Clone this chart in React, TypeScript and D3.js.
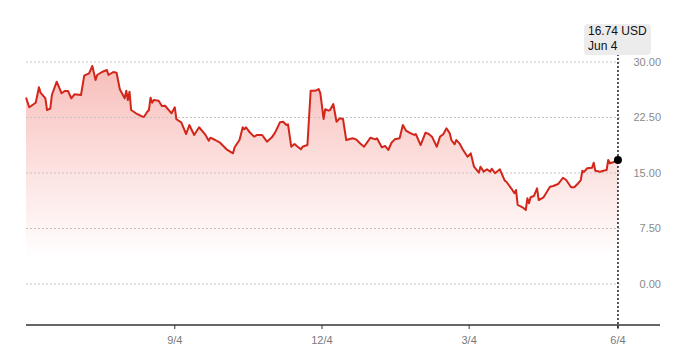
import React from "react";
import * as d3 from "d3";

const START = new Date(2023, 5, 4);
const END_AXIS = new Date(2024, 5, 30);

const dayOffsets = [
  0, 2, 6, 8, 9, 12, 13, 15, 16, 19, 22, 24, 26, 28, 30, 34, 36, 39, 41, 43, 44, 47, 50, 51, 54, 56, 58, 61, 62, 63,
  64, 65, 68, 72, 73, 75, 76, 77, 78, 79, 82, 84, 86, 90, 92, 93, 96, 99, 101, 104, 107, 111, 113, 114, 117, 120, 124,
  128, 129, 132, 134, 135, 136, 138, 141, 143, 146, 149, 152, 154, 157, 159, 161, 162, 164, 166, 168, 170, 171, 174,
  176, 179, 181, 182, 184, 185, 187, 188, 190, 192, 194, 196, 198, 202, 204, 207, 209, 213, 216, 217, 220, 222, 224,
  226, 228, 231, 233, 235, 237, 240, 241, 244, 247, 249, 251, 254, 256, 258, 260, 262, 263, 265, 266, 268, 270, 273,
  275, 277, 280, 281, 283, 285, 287, 288, 290, 293, 296, 297, 300, 302, 303, 304, 307, 309, 310, 311, 312, 314, 316,
  317, 320, 324, 326, 329, 332, 334, 337, 339, 341, 343, 344, 345, 347, 350, 351, 352, 355, 357, 359, 360, 361, 363, 366,
];

const prices = [
  25.18, 23.88, 24.5, 26.58, 25.85, 25.09, 23.51, 23.69, 25.54, 27.34, 25.77, 26.08, 26.08, 25.09, 25.64, 25.54, 28.15,
  28.47, 29.46, 27.57, 28.24, 28.65, 28.92, 28.24, 28.65, 28.55, 26.31, 25.09, 26.12, 24.86, 25.99, 23.51, 23.07, 22.61,
  22.61, 23.28, 23.51, 25.18, 24.5, 24.86, 24.77, 24.05, 24.09, 23.07, 23.88, 22.26, 21.85, 20.27, 21.49, 20.14, 21.18,
  20.14, 19.36, 19.77, 19.46, 19.09, 18.2, 17.66, 18.47, 19.46, 21.18, 20.91, 21.18, 20.58, 19.91, 20.14, 20.14, 19.23,
  19.82, 20.45, 21.85, 21.93, 21.49, 21.58, 18.55, 18.92, 18.55, 18.2, 18.55, 18.78, 26.12, 26.12, 26.35, 25.77, 22.3,
  23.61, 23.42, 23.51, 24.32, 21.93, 22.39, 22.3, 19.46, 19.69, 19.55, 18.92, 18.55, 19.77, 19.55, 19.69, 18.47, 18.65,
  18.11, 19.09, 19.55, 19.69, 21.49, 20.72, 20.45, 20.14, 20.27, 18.78, 20.45, 20.27, 19.91, 18.55, 19.91, 20.23, 21.04,
  20.36, 19.46, 18.88, 19.46, 19.01, 18.2, 17.2, 17.66, 15.85, 15.04, 15.85, 15.18, 15.5, 15.18, 15.58, 14.96, 15.5,
  13.96, 13.82, 12.93, 12.26, 12.7, 10.68, 10.36, 10.0, 11.58, 10.91, 11.72, 11.89, 12.93, 11.35, 11.72, 13.15, 13.24,
  13.51, 14.36, 14.05, 13.07, 13.07, 13.51, 14.05, 15.31, 15.14, 15.64, 15.72, 16.39, 15.31, 15.18, 15.31, 15.41, 16.76,
  16.31, 16.45, 16.74,
];

const yTicks = [0, 7.5, 15, 22.5, 30];
const xTickDates = [new Date(2023, 8, 4), new Date(2023, 11, 4), new Date(2024, 2, 4), new Date(2024, 5, 4)];
const tooltipPrice = "16.74 USD";
const tooltipDate = "Jun 4";

const FONT = "'Liberation Sans', Arial, Helvetica, sans-serif";

export default function App() {
  const W = 680;
  const H = 353;
  const x = d3.scaleTime().domain([START, END_AXIS]).range([26, 660]);
  const y = d3.scaleLinear().domain([0, 30]).range([284, 62]);
  const axisY = 325;

  const data = dayOffsets.map((d, i) => ({ date: d3.timeDay.offset(START, d), v: prices[i] }));
  const line = d3
    .line<{ date: Date; v: number }>()
    .x((d) => x(d.date))
    .y((d) => y(d.v));
  const area = d3
    .area<{ date: Date; v: number }>()
    .x((d) => x(d.date))
    .y0(axisY)
    .y1((d) => y(d.v));

  const last = data[data.length - 1];
  const lx = x(last.date);
  const ly = y(last.v);
  const fmt = d3.timeFormat("%-m/%-d");

  return (
    <svg
      width={W}
      height={H}
      style={{ position: "absolute", left: 0, top: 0, background: "#fff" }}
      fontFamily={FONT}
    >
      <defs>
        <linearGradient id="fillGrad" gradientUnits="userSpaceOnUse" x1="0" y1={y(30)} x2="0" y2={258}>
          <stop offset="0" stopColor="rgb(232,60,48)" stopOpacity={0.34} />
          <stop offset="0.55" stopColor="rgb(232,60,48)" stopOpacity={0.15} />
          <stop offset="1" stopColor="rgb(232,60,48)" stopOpacity={0} />
        </linearGradient>
      </defs>

      <path d={area(data) || ""} fill="url(#fillGrad)" />

      {yTicks.map((t) => (
        <g key={t}>
          <line
            x1={26}
            x2={622}
            y1={y(t)}
            y2={y(t)}
            stroke="#c4c4c4"
            strokeWidth={1}
            strokeDasharray="2,2"
          />
          <text x={661} y={y(t)} dy="0.35em" textAnchor="end" fontSize={11} fill="#8a8a8a">
            {d3.format(".2f")(t)}
          </text>
        </g>
      ))}

      <path d={line(data) || ""} fill="none" stroke="#d2261b" strokeWidth={2} strokeLinejoin="round" />

      <line x1={26} x2={660} y1={axisY} y2={axisY} stroke="#333" strokeWidth={1.5} />
      {xTickDates.map((t) => (
        <g key={t.getTime()}>
          <line x1={x(t)} x2={x(t)} y1={axisY} y2={axisY + 4} stroke="#333" strokeWidth={1} />
          <text x={x(t)} y={344} textAnchor="middle" fontSize={11} fill="#7a7a7a">
            {fmt(t)}
          </text>
        </g>
      ))}

      <line x1={lx} x2={lx} y1={54} y2={axisY + 4} stroke="#222" strokeWidth={1.5} strokeDasharray="2,2" />
      <circle cx={lx} cy={ly} r={4} fill="#000" />

      <rect x={584} y={24} width={67} height={31} rx={4} fill="#ececec" />
      <text x={588} y={35} fontSize={12} fill="#111">
        {tooltipPrice}
      </text>
      <text x={588} y={50} fontSize={12} fill="#111">
        {tooltipDate}
      </text>
    </svg>
  );
}
